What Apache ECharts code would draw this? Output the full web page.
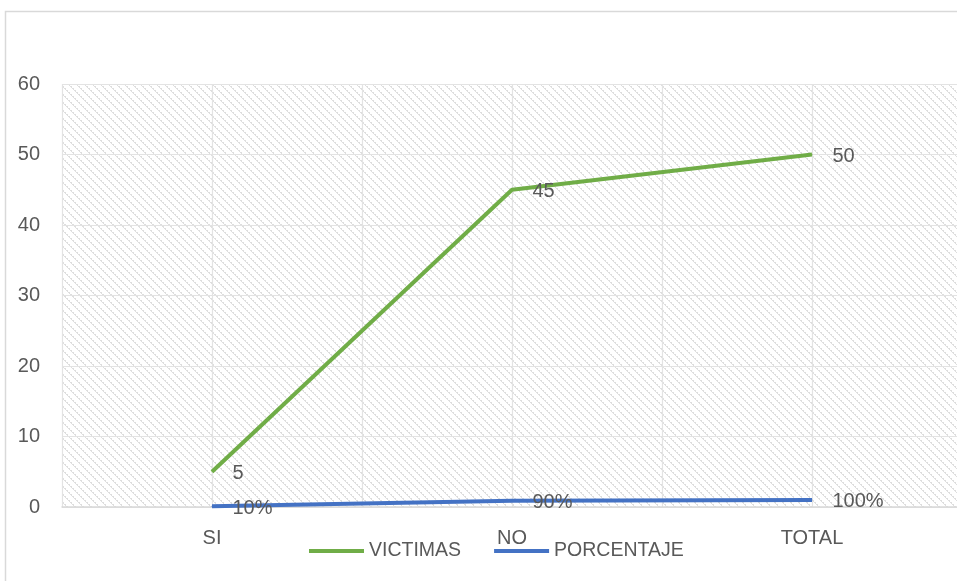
<!DOCTYPE html>
<html>
<head>
<meta charset="utf-8">
<script src="https://cdn.jsdelivr.net/npm/echarts@6/dist/echarts.min.js"></script>
<style>
  html, body { margin: 0; padding: 0; background: #fff; }
  #chart { width: 957px; height: 581px; }
</style>
</head>
<body>
<div id="chart"></div>
<script>
const categories = ['SI', 'NO', 'TOTAL']
const victimas = [5, 45, 50]
const porcentaje = [0.1, 0.9, 1]
const yTicks = { min: 0, max: 60, interval: 10 }

// diagonal hatch for the plot area
function hatch() {
  const c = document.createElement('canvas')
  c.width = 8
  c.height = 8
  const ctx = c.getContext('2d')
  ctx.fillStyle = '#ffffff'
  ctx.fillRect(0, 0, 8, 8)
  ctx.fillStyle = '#dedede'
  for (let i = 0; i < 8; i++) {
    ctx.fillRect(i, i, 1, 1)
    if (i % 2 === 0) ctx.fillRect((i + 1) % 8, i, 1, 1)
  }
  return c
}

const font = '"Liberation Sans", Arial, sans-serif'
const textColor = '#595959'
const chart = echarts.init(document.getElementById('chart'))

const labelStyle = {
  show: true,
  position: 'right',
  distance: 20,
  offset: [0, 2],
  color: textColor,
  fontSize: 20,
  fontFamily: font
}

const option = {
  backgroundColor: '#fff',
  animation: false,
  textStyle: { fontFamily: font },
  graphic: [{
    type: 'rect',
    shape: { x: 5.5, y: 11.5, width: 1000, height: 700 },
    style: { fill: 'none', stroke: '#d9d9d9', lineWidth: 1.5 },
    silent: true,
    z: -10
  }],
  grid: {
    left: 62,
    top: 84,
    width: 900,
    height: 423,
    outerBoundsMode: 'none',
    containLabel: false,
    show: true,
    borderWidth: 0,
    backgroundColor: { image: hatch(), repeat: 'repeat' }
  },
  legend: {
    left: 304,
    top: 536,
    icon: 'rect',
    itemWidth: 55,
    itemHeight: 4,
    itemGap: 33,
    textStyle: { color: textColor, fontSize: 19.5, fontFamily: font },
    data: ['VICTIMAS', 'PORCENTAJE']
  },
  xAxis: [{
    type: 'category',
    data: categories,
    boundaryGap: true,
    axisLine: { lineStyle: { color: '#d9d9d9', width: 1.5 } },
    axisTick: { show: false },
    axisLabel: { color: textColor, fontSize: 20, margin: 21, fontFamily: font },
    splitLine: { show: false }
  }, {
    type: 'category',
    data: ['', '', '', '', '', ''],
    boundaryGap: true,
    position: 'bottom',
    axisLine: { show: false },
    axisTick: { show: false },
    axisLabel: { show: false },
    splitLine: { show: true, lineStyle: { color: '#e3e3e3', width: 1.2 } }
  }],
  yAxis: {
    type: 'value',
    min: yTicks.min,
    max: yTicks.max,
    interval: yTicks.interval,
    axisLine: { show: false },
    axisTick: { show: false },
    axisLabel: { color: textColor, fontSize: 20, margin: 22, fontFamily: font },
    splitLine: { lineStyle: { color: '#e3e3e3', width: 1.2 } }
  },
  series: [{
    name: 'VICTIMAS',
    type: 'line',
    data: victimas,
    symbol: 'circle',
    symbolSize: 1,
    showSymbol: true,
    color: '#70AD47',
    lineStyle: { color: '#70AD47', width: 4 },
    label: labelStyle,
    z: 3
  }, {
    name: 'PORCENTAJE',
    type: 'line',
    data: porcentaje,
    symbol: 'circle',
    symbolSize: 1,
    showSymbol: true,
    color: '#4472C4',
    lineStyle: { color: '#4472C4', width: 4 },
    label: Object.assign({}, labelStyle, {
      formatter: p => Math.round(p.value * 100) + '%'
    }),
    z: 3
  }]
}

chart.setOption(option)

window.addEventListener('resize', () => {
  if (chart) chart.resize()
})
</script>
</body>
</html>
